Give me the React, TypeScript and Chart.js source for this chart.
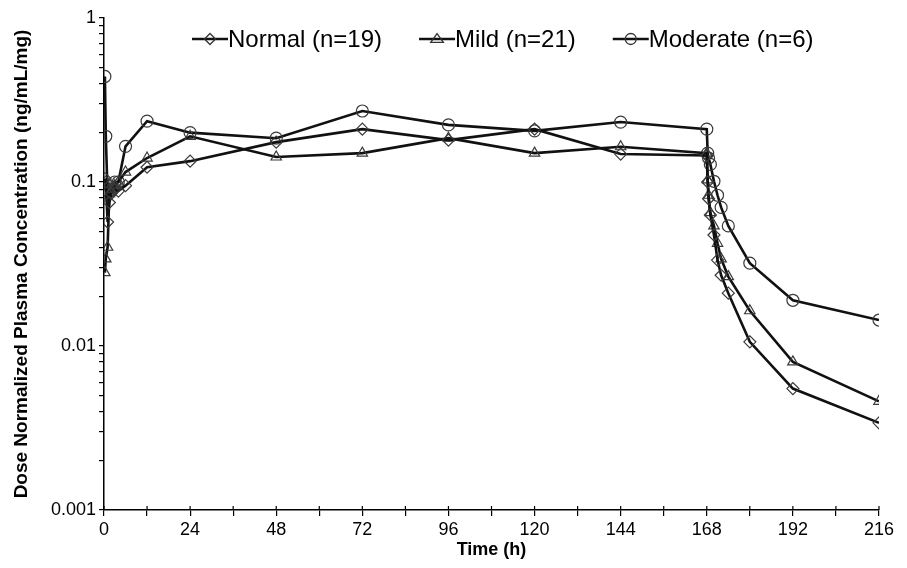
import React, { useEffect, useRef } from 'react';
import { Chart, registerables } from 'chart.js';

Chart.register(...registerables);

// ---- data ----
const timeH = [0.25, 0.5, 1, 1.5, 2, 3, 4, 6, 12, 24, 48, 72, 96, 120, 144, 168, 168.25, 168.5, 169, 170, 171, 172, 174, 180, 192, 216];

const normalConc = [0.105, 0.1, 0.057, 0.075, 0.085, 0.09, 0.088, 0.095, 0.123, 0.134, 0.175, 0.21, 0.18, 0.21, 0.148, 0.145, 0.1, 0.079, 0.063, 0.0475, 0.0334, 0.027, 0.021, 0.0106, 0.0055, 0.0034];
const mildConc = [0.028, 0.034, 0.04, 0.085, 0.09, 0.095, 0.1, 0.115, 0.14, 0.19, 0.142, 0.15, 0.185, 0.15, 0.164, 0.15, 0.103, 0.083, 0.065, 0.054, 0.0423, 0.034, 0.0265, 0.0164, 0.008, 0.0046];
const moderateConc = [0.44, 0.19, 0.085, 0.095, 0.09, 0.1, 0.1, 0.165, 0.235, 0.2, 0.185, 0.271, 0.223, 0.205, 0.232, 0.21, 0.15, 0.14, 0.128, 0.101, 0.083, 0.07, 0.054, 0.032, 0.019, 0.0144];

const seriesLabels = ['Normal (n=19)', 'Mild (n=21)', 'Moderate (n=6)'];
const yTickLabels = ['1', '0.1', '0.01', '0.001'];
const xTickValues = [0, 12, 24, 36, 48, 60, 72, 84, 96, 108, 120, 132, 144, 156, 168, 180, 192, 204, 216];
const xLabelStep = 24;

const FONT = '"Liberation Sans", Arial, Helvetica, sans-serif';
const pointStyles = ['rectRot', 'triangle', 'circle'];

function drawMarker(ctx: CanvasRenderingContext2D, style: string, x: number, y: number, r: number) {
  ctx.beginPath();
  if (style === 'rectRot') {
    ctx.moveTo(x, y - r);
    ctx.lineTo(x + r, y);
    ctx.lineTo(x, y + r);
    ctx.lineTo(x - r, y);
    ctx.closePath();
  } else if (style === 'triangle') {
    const h = r * 1.5;
    ctx.moveTo(x, y - h * 0.66);
    ctx.lineTo(x + r * 1.15, y + h * 0.4);
    ctx.lineTo(x - r * 1.15, y + h * 0.4);
    ctx.closePath();
  } else {
    ctx.arc(x, y, r, 0, Math.PI * 2);
  }
  ctx.stroke();
}

const legendPlugin = {
  id: 'lineMarkerLegend',
  afterDraw(chart: any) {
    const ctx: CanvasRenderingContext2D = chart.ctx;
    ctx.save();
    ctx.font = `24px ${FONT}`;
    ctx.textBaseline = 'middle';
    ctx.textAlign = 'left';
    let x = 192;
    const y = 39;
    const lineLen = 36;
    chart.data.datasets.forEach((ds: any, i: number) => {
      ctx.strokeStyle = '#111';
      ctx.lineWidth = 2.5;
      ctx.beginPath();
      ctx.moveTo(x, y);
      ctx.lineTo(x + lineLen, y);
      ctx.stroke();
      ctx.strokeStyle = '#333';
      ctx.lineWidth = 1.3;
      drawMarker(ctx, pointStyles[i], x + lineLen / 2, y, 5.5);
      ctx.fillStyle = '#000';
      ctx.fillText(ds.label, x + lineLen, y + 1);
      const w = ctx.measureText(ds.label).width;
      x += lineLen + w + 37;
    });
    ctx.restore();
  },
};

const crossTickPlugin = {
  id: 'crossTicks',
  afterDraw(chart: any) {
    const ctx: CanvasRenderingContext2D = chart.ctx;
    const xs = chart.scales.x;
    const bottom = chart.chartArea.bottom;
    ctx.save();
    ctx.strokeStyle = '#000';
    ctx.lineWidth = 1.2;
    xTickValues.forEach((v) => {
      const px = xs.getPixelForValue(v);
      ctx.beginPath();
      ctx.moveTo(px, bottom - 4);
      ctx.lineTo(px, bottom);
      ctx.stroke();
    });
    ctx.restore();
  },
};

function logTickValues(): number[] {
  const out: number[] = [];
  for (let e = -3; e <= 0; e++) {
    for (let m = 1; m <= 9; m++) {
      const v = Number((m * Math.pow(10, e)).toPrecision(3));
      if (v <= 1) out.push(v);
    }
  }
  return out;
}

export default function App() {
  const ref = useRef<HTMLCanvasElement>(null);

  useEffect(() => {
    if (!ref.current) return;
    const toPts = (vals: number[]) => timeH.map((t, i) => ({ x: t, y: vals[i] }));
    const datasets = [normalConc, mildConc, moderateConc].map((vals, i) => ({
      label: seriesLabels[i],
      data: toPts(vals),
      borderColor: '#111',
      borderWidth: 2.6,
      pointStyle: pointStyles[i],
      pointRadius: i === 0 ? 6 : 6,
      pointBorderColor: '#3a3a3a',
      pointBorderWidth: 1.2,
      pointBackgroundColor: 'rgba(0,0,0,0)',
      tension: 0,
      fill: false,
    }));

    const chart = new Chart(ref.current, {
      type: 'line',
      data: { datasets },
      plugins: [legendPlugin, crossTickPlugin],
      options: {
        animation: false,
        responsive: false,
        layout: { padding: { left: 0, right: 28, top: 18, bottom: 0 } },
        plugins: { legend: { display: false }, tooltip: { enabled: false } },
        scales: {
          x: {
            type: 'linear',
            min: 0,
            max: 216,
            afterBuildTicks: (s: any) => {
              s.ticks = xTickValues.map((v) => ({ value: v }));
            },
            afterFit: (s: any) => {
              s.height = 58;
            },
            ticks: {
              autoSkip: false,
              maxRotation: 0,
              padding: 3,
              color: '#000',
              font: { family: FONT, size: 18 },
              callback: (v: any) => (Number(v) % xLabelStep === 0 ? String(v) : ''),
            },
            grid: { drawOnChartArea: false, drawTicks: true, tickLength: 6, color: '#000', lineWidth: 1.2 },
            border: { display: true, color: '#000', width: 1.5 },
            title: {
              display: true,
              text: 'Time (h)',
              color: '#000',
              font: { family: FONT, size: 18, weight: 'bold' },
              padding: { top: 0, bottom: 7 },
            },
          },
          y: {
            type: 'logarithmic',
            min: 0.001,
            max: 1,
            afterBuildTicks: (s: any) => {
              s.ticks = logTickValues().map((v) => ({ value: v }));
            },
            afterFit: (s: any) => {
              s.width = 104;
            },
            ticks: {
              autoSkip: false,
              padding: 3,
              color: '#000',
              font: { family: FONT, size: 18 },
              callback: (v: any) => {
                const l = Math.log10(Number(v));
                const r = Math.round(l);
                return Math.abs(l - r) < 1e-6 ? yTickLabels[-r] : '';
              },
            },
            grid: { drawOnChartArea: false, drawTicks: true, tickLength: 5, color: '#000', lineWidth: 1.2 },
            border: { display: true, color: '#000', width: 1.5 },
            title: {
              display: true,
              text: 'Dose Normalized Plasma Concentration (ng/mL/mg)',
              color: '#000',
              font: { family: FONT, size: 19, weight: 'bold' },
              padding: { top: 10, bottom: 0 },
            },
          },
        },
      } as any,
    });
    return () => chart.destroy();
  }, []);

  return (
    <div style={{ position: 'fixed', left: 0, top: 0, width: 907, height: 568, background: '#fff' }}>
      <canvas ref={ref} width={907} height={568} style={{ display: 'block' }} />
    </div>
  );
}
